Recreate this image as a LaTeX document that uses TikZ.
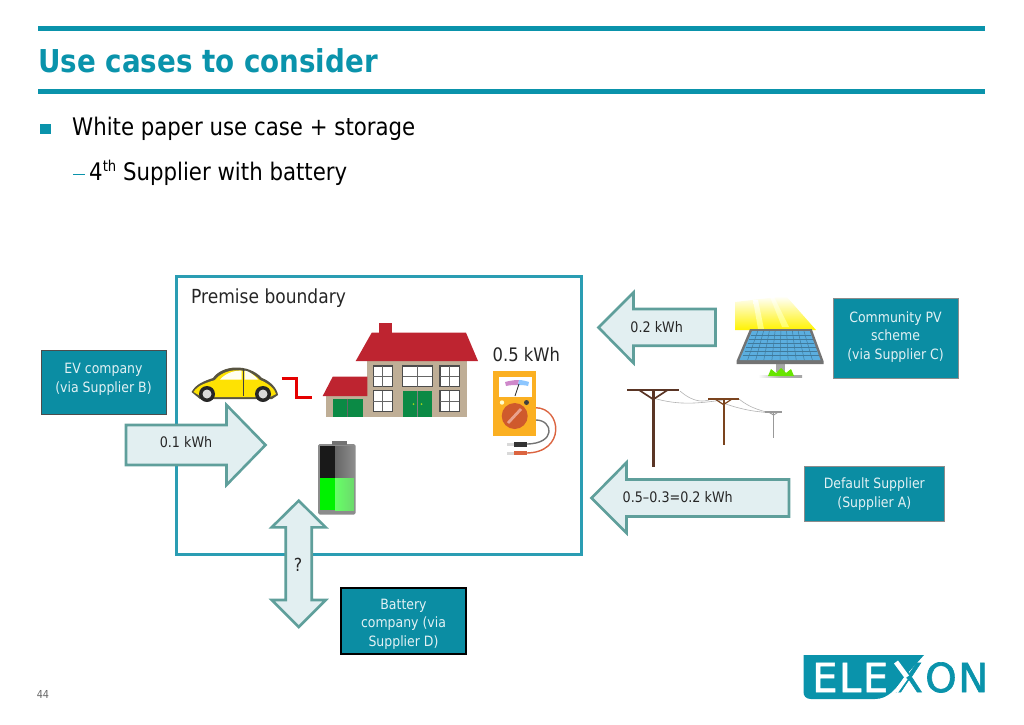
\documentclass[tikz,border=0pt]{standalone}
\usepackage{fontspec}
\setmainfont{DejaVu Sans}[FakeStretch=0.88]
\newfontfamily\logofont{DejaVu Sans}[FakeBold=1.6,LetterSpace=4]
\usetikzlibrary{positioning}
\definecolor{elexteal}{HTML}{0A93AB}
\definecolor{premiseteal}{HTML}{2A9DB3}
\definecolor{boxteal}{HTML}{0B8DA3}
\definecolor{arrowedge}{HTML}{5F9F9B}
\definecolor{arrowfill}{HTML}{E2EFF1}
\definecolor{roofred}{HTML}{BE2430}
\definecolor{wallbeige}{HTML}{BFAE96}
\definecolor{doorgreen}{HTML}{0B8A45}
\definecolor{polebrown}{HTML}{5A3525}
\definecolor{meteramber}{HTML}{FBB022}
\definecolor{dialred}{HTML}{CF5A2C}
\definecolor{leadred}{HTML}{DB6440}
\definecolor{cellblue}{HTML}{5BAEDF}
\tikzset{
  blockarrow/.style={draw=arrowedge, fill=arrowfill, line width=2.6pt, line join=miter},
  supplierbox/.style={draw=#1, fill=boxteal, line width=1pt, text=white!88!boxteal, align=center,
    inner sep=0pt, font=\fontsize{14.2}{18.5}\selectfont},
  supplierbox/.default=black!70,
  flowlabel/.style={font=\fontsize{14.5}{17}\selectfont, text=black!85, inner sep=0pt},
  windowpane/.style={draw=black!70, fill=white, line width=1.3pt}
}
\begin{document}
\begin{tikzpicture}[x=1pt,y=-1pt]
  \useasboundingbox (0,0) rectangle (1024,724);

  % Header
  \fill[elexteal] (38,26) rectangle (985,31);
  \fill[elexteal] (38,89) rectangle (985,94);
  \node[anchor=base west, inner sep=0pt, text=elexteal, font=\fontsize{31.5}{36}\selectfont\bfseries] (title) at (38,72) {Use cases to consider};
  \fill[elexteal] (39.5,124) rectangle (51,134);
  \node[anchor=base west, inner sep=0pt, font=\fontsize{24.2}{28}\selectfont] (bullet) at (72,135) {White paper use case + storage};
  \draw[elexteal, line width=1pt] (73,174) -- (85,174);
  \node[anchor=base west, inner sep=0pt, font=\fontsize{24.2}{28}\selectfont] (subbullet) at (89,180) {4\raisebox{0.65ex}{\fontsize{15}{15}\selectfont th} Supplier with battery};

  % Premise boundary
  \draw[draw=premiseteal, line width=3pt] (176,276) rectangle (581.5,554.5);
  \node[anchor=base west, inner sep=0pt, text=black!85, font=\fontsize{19.4}{22}\selectfont] (premise) at (191,303) {Premise boundary};

  % Car
  \fill[black!65!yellow!70!black] (191.5,392) .. controls (196,384) and (204,381) .. (213,378) .. controls (222,365) and (248,363) .. (262,378)
    .. controls (270,381) and (277,388) .. (278,395) -- (272,399) -- (200,399) -- cycle;
  \fill[yellow!85!orange] (193.5,392) .. controls (198,385) and (206,383) .. (215,380) .. controls (224,368) and (247,366) .. (260,380)
    .. controls (268,383) and (275,389) .. (276,394) -- (270,397) -- (202,397) -- cycle;
  \fill[white!95!yellow] (220,379.5) .. controls (226,373) and (234,370.5) .. (241.5,370.5) -- (241.5,379.5) -- cycle;
  \fill[white!95!yellow] (244.5,370.5) .. controls (249,371) and (254,375) .. (258,379.5) -- (244.5,379.5) -- cycle;
  \draw[black!75, line width=0.8pt] (243,369) -- (243,396);
  \foreach \x in {207,263} {
    \fill[black!85] (\x,394) circle (8);
    \fill[white!85!black] (\x,394) circle (4.5);
  }

  % Link between car and house
  \draw[red!90!black, line width=2.2pt] (281.5,378.5) -- (296.5,378.5) -- (296.5,397.5) -- (312,397.5);

  % House
  \fill[wallbeige] (367.3,360) rectangle (466.7,416.7);
  \fill[wallbeige] (325.7,396) rectangle (367.3,416.7);
  \fill[roofred] (379,323.3) rectangle (391.7,334);
  \fill[roofred] (355.7,361) -- (371.7,332.7) -- (466,332.7) -- (478,361) -- cycle;
  \fill[roofred] (322.7,396) -- (332.7,376.7) -- (367.3,376.7) -- (367.3,396) -- cycle;
  \fill[doorgreen] (332.7,398.7) rectangle (362.7,416.5);
  \draw[black!60, line width=0.6pt] (347.7,398.7) -- (347.7,416.5);
  \fill[doorgreen] (402.7,391) rectangle (432.3,416.7);
  \draw[black!50, line width=0.6pt] (417.5,391) -- (417.5,416.7);
  \fill[yellow!60!green] (413.5,404) circle (1) (421.5,404) circle (1);
  \foreach \xa/\ya/\xb/\yb in {373.3/366/392.3/386.7, 402.7/366/432.3/386.7, 440/366/459.3/386.7, 373.3/390.7/392.3/411.3, 440/390.7/459.3/411.3} {
    \draw[windowpane] (\xa,\ya) rectangle (\xb,\yb);
    \draw[black!60, line width=0.8pt] ({(\xa+\xb)/2},\ya) -- ({(\xa+\xb)/2},\yb) (\xa,{(\ya+\yb)/2}) -- (\xb,{(\ya+\yb)/2});
  }

  % Meter
  \node[anchor=base west, inner sep=0pt, text=black!85, font=\fontsize{18.6}{22}\selectfont] (reading) at (492.5,361) {0.5 kWh};
  \draw[leadred, line width=1.4pt] (535.7,407.7) .. controls (562,408) and (566,453) .. (526,453);
  \draw[black!55, line width=1.4pt] (536,420) .. controls (553,420) and (557,444) .. (526,444);
  \fill[black!15] (507,443) rectangle (514.5,445.5);
  \fill[black!15] (507,452) rectangle (514.5,454.5);
  \fill[black!80] (514.3,441.7) rectangle (526.7,446.7);
  \fill[leadred] (514.3,450.7) rectangle (526.7,455);
  \fill[meteramber] (492.7,371) rectangle (536,436);
  \fill[white] (499.3,377.3) rectangle (531.7,397.3);
  \fill[magenta!60!blue!45] (505,382) .. controls (512,380) and (517,380) .. (519,380) -- (518,385) .. controls (514,385) and (510,385) .. (506,386) -- cycle;
  \fill[blue!50!cyan!45] (519,380) .. controls (522,380) and (526,381) .. (529,382) -- (528,386) .. controls (525,385) and (521,385) .. (518,385) -- cycle;
  \draw[black!80, line width=0.9pt] (515,396) -- (519,384);
  \fill[black!75] (526.5,402.5) circle (2.5);
  \fill[white!80!yellow] (502,402.5) circle (2.2);
  \fill[dialred] (514.7,416) circle (13);
  \draw[leadred!60!white, line width=2.8pt] (508,423) -- (521,409);

  % Battery
  \fill[black!45, rounded corners=1.5pt] (318.2,444) rectangle (355.5,514.5);
  \fill[black!55] (332,440.5) rectangle (346.5,445);
  \fill[black!90] (320,446) rectangle (335,478);
  \shade[left color=black!60, right color=black!45] (335,446) rectangle (354,478);
  \fill[green!95!black] (320,478) rectangle (335,510);
  \shade[left color=green!60!white, right color=green!50!white!85!black] (335,478) rectangle (354,510);

  % Panel and sun rays
  \shade[top color=white, bottom color=yellow!90!orange] (735,302) -- (786,296) -- (816,330) -- (735,330) -- cycle;
  \shade[top color=white, bottom color=white!40!yellow] (753,300) -- (758,300) -- (764,329) -- (758,329) -- cycle;
  \shade[top color=white, bottom color=white!40!yellow] (770,297) -- (774,297) -- (789,327) -- (782,327) -- cycle;
  \shade[left color=white, right color=black!35, middle color=black!30] (758,375.5) rectangle (802,377);
  \fill[black!35] (776,363) rectangle (785,372);
  \fill[green!55!yellow!90!black] (768,376) -- (771,369) -- (776,373) -- (781,368) -- (786,373) -- (791,369) -- (794,376) -- cycle;
  \fill[black!55] (750,329) -- (811.7,329) -- (823.5,361) -- (823.5,364) -- (736.5,364) -- (736.5,361) -- cycle;
  \fill[cellblue] (752,331) -- (809.7,331) -- (820.5,360) -- (739.5,360) -- cycle;
  \foreach \t in {0.1,0.2,0.3,0.4,0.5,0.6,0.7,0.8,0.9}
    \draw[black!30!cellblue, line width=0.5pt] ({752+57.7*\t},331) -- ({739.5+81*\t},360);
  \foreach \y/\l/\r in {335/750.6/811.2, 339/749.2/812.7, 343/747.8/814.2, 347/746.4/815.7, 351/744.5/817.2, 355/743/818.7}
    \draw[black!30!cellblue, line width=0.5pt] (\l,\y) -- (\r,\y);

  % Poles
  \draw[black!30, line width=0.6pt] (680,391) .. controls (695,404) and (705,401) .. (709,400);
  \draw[black!30, line width=0.6pt] (653,398) .. controls (680,406) and (700,403) .. (723,400);
  \draw[black!30, line width=0.6pt] (739,399) .. controls (750,408) and (760,410) .. (766,412);
  \draw[black!30, line width=0.6pt] (723,403) .. controls (745,411) and (760,412) .. (773,413);
  \foreach \xp/\ya/\yb/\w/\shade/\lw in {653.3/390/466.7/26/polebrown/2.8, 723.5/399/444.5/15.5/polebrown!80!orange/2, 773.5/412/437.5/8.7/black!40/1.4} {
    \draw[\shade, line width=\lw pt] (\xp,\ya) -- (\xp,\yb);
    \draw[\shade, line width=\lw pt] ({\xp-\w},\ya) -- ({\xp+\w},\ya);
    \draw[\shade, line width=0.6*\lw pt] ({\xp-0.55*\w},\ya) -- (\xp,{\ya+0.36*\w}) -- ({\xp+0.55*\w},\ya);
  }

  % Flow arrows
  \draw[blockarrow] (126,425) -- (226.5,425) -- (226.5,405) -- (265.5,445) -- (226.5,485) -- (226.5,465) -- (126,465) -- cycle;
  \draw[blockarrow] (715.5,309) -- (633.5,309) -- (633.5,292.5) -- (598.5,327.5) -- (633.5,363) -- (633.5,345.7) -- (715.5,345.7) -- cycle;
  \draw[blockarrow] (789,479.5) -- (626.5,479.5) -- (626.5,462.5) -- (591.5,498) -- (626.5,533) -- (626.5,516.5) -- (789,516.5) -- cycle;
  \draw[blockarrow] (285.7,527.3) -- (271.7,527.3) -- (298.7,500.7) -- (325.7,527.3) -- (311.7,527.3) -- (311.7,600) -- (325.7,600) -- (298.7,627) -- (271.7,600) -- (285.7,600) -- cycle;
  \node[flowlabel] (evflow) at (186,442) {0.1 kWh};
  \node[flowlabel] (pvflow) at (656.7,327) {0.2 kWh};
  \node[flowlabel] (defaultflow) at (677.7,497) {0.5--0.3=0.2 kWh};
  \node[flowlabel, font=\fontsize{18}{20}\selectfont] (unknownflow) at (298,565) {?};

  % Suppliers
  \node[supplierbox, minimum width=125pt, minimum height=64pt] (evbox) at (103.5,382) {EV company\\(via Supplier B)\\[-10pt]\mbox{}};
  \node[supplierbox=black!45, minimum width=125pt, minimum height=80pt] (pvbox) at (895.5,338) {Community PV\\scheme\\(via Supplier C)\\[-13.5pt]\mbox{}};
  \node[supplierbox=black!45, minimum width=140pt, minimum height=55pt] (defaultbox) at (874.3,494) {Default Supplier\\(Supplier A)};
  \node[supplierbox=black, line width=1.6pt, minimum width=125pt, minimum height=66pt] (batterybox) at (403.5,621) {\rule{0pt}{16.5pt}Battery\\company (via\\Supplier D)};

  % Footer
  \node[inner sep=0pt, text=black!60, font=\fontsize{11}{13}\selectfont] (pagenum) at (43,694) {44};
  \fill[elexteal] (803.5,655) -- (924,655) -- (906,675) .. controls (896,689) and (888,699) .. (875,699) -- (811,699) .. controls (806,699) and (803.5,696) .. (803.5,692) -- cycle;
  \node[anchor=base west, inner sep=0pt, text=white, font=\fontsize{40}{44}\selectfont\logofont] (logoleft) at (812,692) {ELE};
  \node[anchor=base, inner sep=0pt, text=elexteal, font=\fontsize{40}{44}\selectfont\logofont] (logox) at (909,692) {X};
  \node[anchor=base west, inner sep=0pt, text=elexteal, font=\fontsize{40}{44}\selectfont\logofont] (logoright) at (925,692) {ON};
  \draw[white, line width=5pt] (896,662) -- (907,677);
  \draw[white, line width=4pt] (896,692) -- (906,678);
\end{tikzpicture}
\end{document}
